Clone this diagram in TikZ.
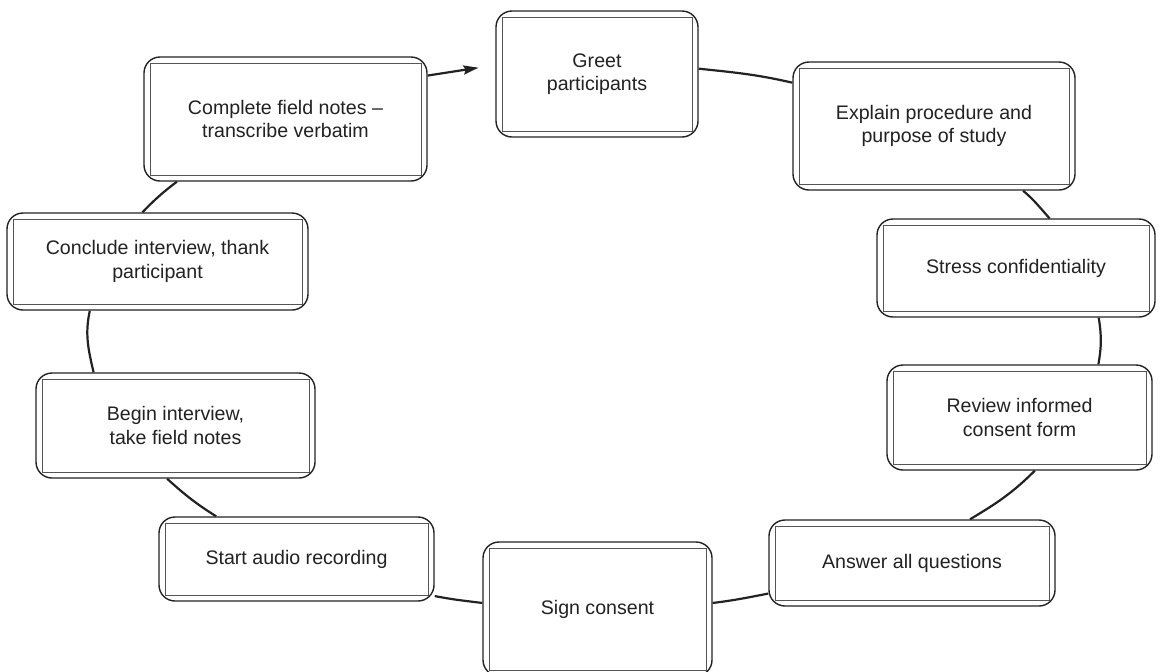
\documentclass[tikz,border=0pt]{standalone}
\usepackage{fontspec}
\setmainfont{Liberation Sans}
\usetikzlibrary{arrows.meta}
\definecolor{inkgray}{HTML}{222222}
\definecolor{rulegray}{HTML}{555555}
\tikzstyle{flow} = [-{Stealth[length=7.5pt,width=4.5pt,inset=1pt]}, shorten >=8.5pt]

\begin{document}
\begin{tikzpicture}[x=0.5pt, y=-0.5pt,
    stepbox/.style={draw=inkgray, line width=0.7pt, rounded corners=8pt, fill=white,
                    text=inkgray, align=center, inner sep=0pt,
                    font=\fontsize{9.8pt}{11.6pt}\selectfont,
                    path picture={\draw[rulegray, line width=0.5pt, sharp corners]
                      ([shift={(3pt,-3pt)}]path picture bounding box.north west) rectangle
                      ([shift={(-3pt,3pt)}]path picture bounding box.south east);}},
    link/.style={line width=1.1pt, draw=inkgray}]

  \useasboundingbox (0,0) rectangle (1161,671);
  \clip (0,0) rectangle (1161,671);

  \node[stepbox, minimum width=101pt,   minimum height=63pt]   (greet)      at (597,74)      {Greet\\participants};
  \node[stepbox, minimum width=141pt,   minimum height=64pt]   (explain)    at (934,126)     {Explain procedure and\\purpose of study};
  \node[stepbox, minimum width=139pt,   minimum height=49pt]   (stress)     at (1016,268)    {Stress confidentiality};
  \node[stepbox, minimum width=132.5pt, minimum height=52.5pt] (review)     at (1019.5,417.5){Review informed\\consent form};
  \node[stepbox, minimum width=143pt,   minimum height=43pt]   (answer)     at (912,563)     {Answer all questions};
  \node[stepbox, minimum width=114.5pt, minimum height=67pt]   (sign)       at (597.5,609)   {Sign consent};
  \node[stepbox, minimum width=137.5pt, minimum height=42pt]   (audio)      at (296.5,559)   {Start audio recording};
  \node[stepbox, minimum width=139.5pt, minimum height=52.5pt] (interview)  at (175.5,425.5) {Begin interview,\\take field notes};
  \node[stepbox, minimum width=150.5pt, minimum height=48.5pt] (conclude)   at (157.5,261.5) {Conclude interview, thank\\participant};
  \node[stepbox, minimum width=141.5pt, minimum height=62pt]   (fieldnotes) at (285.5,119)   {Complete field notes --\\transcribe verbatim};

  \draw[link] (greet.3) to[out=-6, in=167] (explain.163);
  \draw[link] (explain.-36) to[out=-40, in=132] (stress.56);
  \draw[link] (stress.-31) to[out=-81, in=80] (review.34);
  \draw[link] (review.-74) to[out=-135, in=31] (answer.37);
  \draw[link] (answer.192) to[out=191, in=7] (sign.3);
  \draw[link] (sign.177) to[out=173, in=-11] (audio.-15);
  \draw[link] (audio.152) to[out=148, in=-42] (interview.-99);
  \draw[link] (interview.147) to[out=103, in=258] (conclude.216);
  \draw[link] (conclude.107) to[out=46, in=217] (fieldnotes.210);
  \draw[link, flow] (fieldnotes.17) -- (greet.175);
\end{tikzpicture}
\end{document}
